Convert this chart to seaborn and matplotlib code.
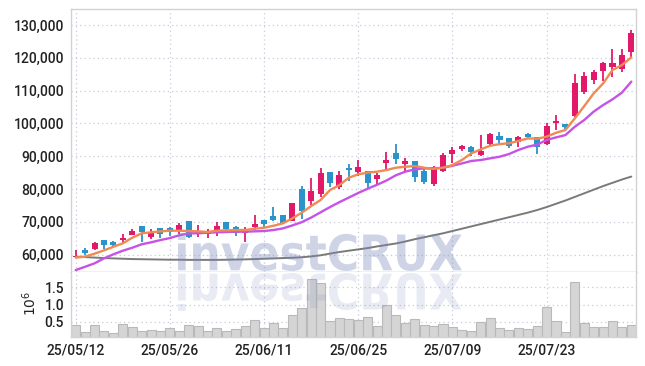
import numpy as np
import pandas as pd
import seaborn as sns
import matplotlib
matplotlib.use("Agg")
import matplotlib.pyplot as plt
from matplotlib.textpath import TextPath
from matplotlib.patches import PathPatch
from matplotlib.font_manager import FontProperties
from matplotlib.transforms import Affine2D, IdentityTransform
from matplotlib.ticker import FuncFormatter

# trading days shown (yy/mm/dd)
dates = [
    "25/05/12", "25/05/13", "25/05/14", "25/05/15", "25/05/16", "25/05/19", "25/05/20", "25/05/21", "25/05/22", "25/05/23",
    "25/05/26", "25/05/27", "25/05/28", "25/05/29", "25/05/30", "25/06/02", "25/06/04", "25/06/05", "25/06/09", "25/06/10",
    "25/06/11", "25/06/12", "25/06/13", "25/06/16", "25/06/17", "25/06/18", "25/06/19", "25/06/20", "25/06/23", "25/06/24",
    "25/06/25", "25/06/26", "25/06/27", "25/06/30", "25/07/01", "25/07/02", "25/07/03", "25/07/04", "25/07/07", "25/07/08",
    "25/07/09", "25/07/10", "25/07/11", "25/07/14", "25/07/15", "25/07/16", "25/07/17", "25/07/18", "25/07/21", "25/07/22",
    "25/07/23", "25/07/24", "25/07/25", "25/07/28", "25/07/29", "25/07/30", "25/07/31", "25/08/01", "25/08/04", "25/08/05",
]

open_ = [59200, 61300, 61800, 64450, 63950, 64450, 66050, 68700, 65450, 68000,
         68100, 67100, 70300, 66300, 66400, 67300, 69850, 68350, 66700, 68400,
         70550, 71750, 72100, 70400, 80000, 76350, 78500, 85100, 80550, 86500,
         85300, 85500, 82950, 88050, 90950, 87600, 88550, 85500, 81500, 85600,
         90550, 92100, 92900, 90350, 93700, 96250, 95650, 94450, 96750, 95750,
         93700, 100050, 99800, 102250, 109700, 113250, 116100, 117300, 116700, 121900]
high = [61400, 61900, 63750, 64500, 64150, 66200, 67700, 68700, 67700, 68000,
        68500, 69550, 70300, 69100, 67700, 70000, 70000, 68700, 68500, 72100,
        70550, 74450, 72100, 75800, 81000, 83250, 86300, 85100, 85600, 87500,
        88850, 85500, 85000, 91400, 93700, 89350, 88550, 86300, 87100, 91000,
        92700, 93400, 93200, 96450, 97150, 97500, 95650, 96250, 97150, 95750,
        100050, 102550, 99800, 115050, 115750, 116300, 118850, 122600, 122600, 128450]
low = [58870, 59900, 61300, 61800, 62700, 63350, 65900, 63850, 64650, 65150,
       65750, 66300, 64950, 65500, 65150, 65800, 66700, 65750, 63900, 67500,
       68500, 70400, 69300, 70400, 70850, 75100, 77650, 80550, 79900, 82450,
       84050, 80200, 81400, 85600, 87500, 85300, 82050, 81500, 81000, 85300,
       87850, 91700, 90150, 90150, 93200, 93950, 92400, 92700, 95250, 90550,
       93400, 98000, 98000, 102050, 108950, 111900, 112950, 114050, 115550, 119850]
close = [59500, 60600, 63500, 63000, 63000, 65050, 67300, 66900, 66900, 66400,
         66900, 69100, 65500, 67350, 67200, 68700, 67700, 66500, 67500, 69450,
         69350, 70550, 69550, 75700, 73300, 79400, 84800, 81900, 84250, 85900,
         86700, 81900, 84250, 88950, 89050, 88650, 83750, 82250, 86600, 90350,
         91900, 93200, 91400, 91600, 96650, 94950, 93200, 95850, 95850, 92700,
         99200, 100850, 99000, 112200, 114450, 115750, 118500, 118500, 120850, 127450]

# volume in millions of shares
volume = [0.40, 0.21, 0.40, 0.23, 0.17, 0.43, 0.35, 0.23, 0.26, 0.23,
          0.32, 0.23, 0.40, 0.38, 0.23, 0.32, 0.23, 0.29, 0.38, 0.55,
          0.32, 0.46, 0.32, 0.69, 0.89, 1.76, 1.62, 0.52, 0.61, 0.58,
          0.55, 0.63, 0.38, 0.98, 0.69, 0.46, 0.58, 0.40, 0.38, 0.43,
          0.35, 0.26, 0.23, 0.49, 0.61, 0.32, 0.26, 0.32, 0.29, 0.38,
          0.92, 0.52, 0.20, 1.65, 0.46, 0.35, 0.35, 0.52, 0.35, 0.40]

# moving averages as drawn (they include days before the window)
ma_short = [59100, 59400, 60300, 61300, 62400, 63450, 65150, 66500, 66800, 67100,
            67300, 67300, 67200, 67100, 66900, 67300, 67400, 67500, 67500, 67900,
            68200, 68800, 69550, 71050, 72800, 74800, 76650, 79700, 81200, 83450,
            84500, 85000, 85300, 85800, 86500, 86800, 87000, 86500, 86150, 86500,
            87300, 88850, 90850, 92100, 93200, 93700, 93950, 94650, 95450, 95350,
            95950, 97150, 98000, 101550, 105300, 109150, 112200, 116300, 117800, 120150]
ma_mid = [55300, 56300, 57350, 58850, 60100, 61200, 62100, 63150, 63750, 64450,
          65050, 65900, 66500, 66500, 66700, 66800, 66900, 67000, 67000, 67100,
          67200, 67500, 68000, 68900, 69900, 71300, 72900, 74500, 76000, 77400,
          78800, 80100, 81300, 82600, 84200, 85300, 86000, 86300, 86300, 86500,
          87100, 87800, 88550, 88850, 89350, 89850, 90650, 91900, 92900, 93550,
          94950, 95750, 96450, 99000, 101050, 103600, 105600, 107350, 109400, 112750]
ma_long = [59400, 59250, 59100, 58950, 58850, 58750, 58650, 58600, 58550, 58500,
           58450, 58450, 58400, 58400, 58400, 58400, 58450, 58500, 58550, 58650,
           58750, 58850, 58950, 59050, 59200, 59450, 59800, 60300, 60800, 61200,
           61600, 62000, 62500, 62950, 63400, 64000, 64700, 65300, 65900, 66500,
           67200, 67900, 68600, 69300, 70000, 70700, 71400, 72100, 72800, 73600,
           74500, 75500, 76500, 77600, 78700, 79800, 80900, 81900, 82900, 83800]

UP = "#e2196b"
DOWN = "#2b93c9"
GRID = "#c6cbdc"
SPINE = "#d2d2d2"
TEXT = "#222222"

sns.set_theme(style="white")
plt.rcParams["font.family"] = ["Roboto", "DejaVu Sans"]
plt.rcParams["font.weight"] = "medium"

df = pd.DataFrame({"date": dates, "open": open_, "high": high, "low": low, "close": close,
                   "volume": volume, "ma_short": ma_short, "ma_mid": ma_mid, "ma_long": ma_long})
df["idx"] = np.arange(len(df))
df["up"] = df["close"] >= df["open"]
colors = [UP if u else DOWN for u in df["up"]]

fig = plt.figure(figsize=(6.45, 3.66), dpi=100)
ax = fig.add_axes([0.1101, 0.2568, 0.8760, 0.7186])
axv = fig.add_axes([0.1101, 0.0792, 0.8760, 0.1776])

# candles
ax.vlines(df["idx"], df["low"], df["high"], colors=colors, linewidth=1.3, zorder=2)
body_lo = df[["open", "close"]].min(axis=1)
body_h = (df["close"] - df["open"]).abs().clip(lower=250)
ax.bar(df["idx"], body_h, bottom=body_lo, width=0.64, color=colors, linewidth=0, zorder=3)

# moving averages
sns.lineplot(data=df, x="idx", y="ma_long", ax=ax, color="#7a7a7a", linewidth=1.4, zorder=4)
sns.lineplot(data=df, x="idx", y="ma_mid", ax=ax, color="#c653e6", linewidth=1.7, zorder=4)
sns.lineplot(data=df, x="idx", y="ma_short", ax=ax, color="#ef8a52", linewidth=1.7, zorder=4)

# volume
sns.barplot(data=df, x="idx", y="volume", ax=axv, color="#d5d5d5", edgecolor="#b9b9b9",
            linewidth=0.8, width=0.96, saturation=1, zorder=2)

tick_pos = list(range(0, len(dates), 10))
for a in (ax, axv):
    a.set_xlim(-0.5, len(dates) - 0.5)
    a.set_xticks(tick_pos)
    a.set_xlabel("")
    a.grid(True, linestyle=(0, (1, 2.5)), color=GRID, linewidth=0.9, zorder=0)
    a.set_axisbelow(True)
    for s in a.spines.values():
        s.set_color(SPINE)
        s.set_linewidth(1.0)
    a.tick_params(length=0, colors=TEXT, labelsize=10, pad=5)

ax.set_ylim(54700, 134900)
ax.set_yticks(range(60000, 130001, 10000))
ax.yaxis.set_major_formatter(FuncFormatter(lambda v, p: f"{int(v):,}"))
ax.set_ylabel("")
ax.set_xticklabels([])
ax.spines["bottom"].set_color("#b5b5b5")

axv.set_ylim(0.05, 1.95)
axv.set_yticks([0.5, 1.0, 1.5])
axv.set_yticklabels(["0.5", "1.0", "1.5"])
axv.set_xticklabels([dates[i] for i in tick_pos])
axv.set_ylabel(r"$10^6$", fontsize=10, color=TEXT, family="DejaVu Sans")
axv.yaxis.set_label_coords(-0.057, 0.52)
axv.spines["top"].set_visible(False)

# watermark with reflection
tp = TextPath((0, 0), "investCRUX", size=100,
              prop=FontProperties(family="DejaVu Sans", weight="bold"))
ext = tp.get_extents()
sx = (462 - 178) / ext.width
sy = 38 / ext.height
main_tr = Affine2D().translate(-ext.x0, -ext.y0).scale(sx, sy).translate(178, 95)
refl_tr = Affine2D().translate(-ext.x0, -ext.y0).scale(sx, -sy).translate(178, 93)
fig.add_artist(PathPatch(main_tr.transform_path(tp), transform=IdentityTransform(),
                         facecolor="#7887bb", edgecolor="none", alpha=0.36, zorder=10))
fig.add_artist(PathPatch(refl_tr.transform_path(tp), transform=IdentityTransform(),
                         facecolor="#7887bb", edgecolor="none", alpha=0.16, zorder=10))

fig.savefig("out.png", dpi=100)
